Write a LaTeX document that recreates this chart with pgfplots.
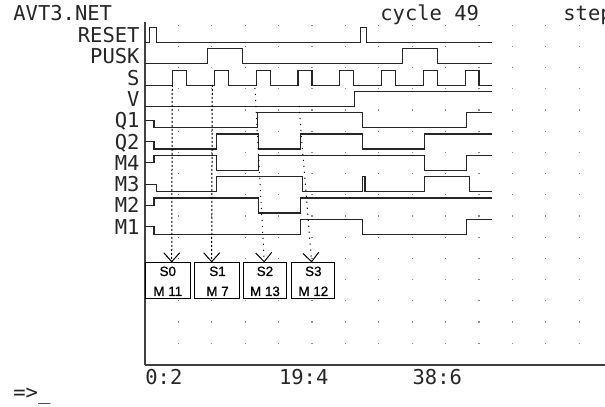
\documentclass[border=0pt]{standalone}
\usepackage{pgfplots}
\pgfplotsset{compat=1.18}
\usepackage{fontspec}
\usetikzlibrary{arrows.meta}
\setmainfont{DejaVu Sans Mono}
\newfontfamily\mono{DejaVu Sans Mono}
\newfontfamily\arial[FakeBold=0.8]{Liberation Sans}
\newcommand\tf{\mono\fontsize{10.25pt}{12pt}\selectfont}
\newcommand\boxfont{\arial\fontsize{6.7pt}{7pt}\selectfont}
\pgfplotsset{
  sig/.style={const plot, color=black!85, line width=0.6pt, mark=none,
     y filter/.expression={130.7+21.3*#1+15*y}},
}
\begin{document}
\begin{tikzpicture}
\begin{axis}[
  x=3.48pt, y=0.5pt,
  xmin=0, xmax=66.1, ymin=0, ymax=343,
  axis x line=bottom, axis y line=left,
  axis line style={-, black!75, line width=0.7pt},
  xtick={0,4.8,9.6,14.4,19.2,24,28.8,33.6,38.4,43.2,48,52.8,57.6,62.4},
  xticklabels={0:2,,,,19:4,,,,38:6,,,,,},
  major tick length=0pt,
  ytick=\empty,
  xmajorgrids,
  major grid style={draw=black!45, line width=0.6pt, dash pattern=on 0.6pt off 10pt},
  xticklabel style={font=\tf, text=black!85, anchor=base west, inner sep=0pt, yshift=-10pt},
  clip=false,
]
% RESET
\addplot[sig=9] coordinates {(0,0) (0.7,1) (1.7,0) (31,1) (31.8,0) (49.8,0)};
% PUSK
\addplot[sig=8] coordinates {(0,0) (9,1) (14,0) (37,1) (42,0) (49.8,0)};
% S
\addplot[sig=7] coordinates {(0,0) (4,1) (6,0) (10,1) (12,0) (16,1) (18,0) (22,1) (24,0) (28,1) (30,0) (34,1) (36,0) (40,1) (42,0) (46,1) (48,0) (49.8,0)};
% V
\addplot[sig=6] coordinates {(0,0) (30.1,1) (49.8,1)};
% Q1
\addplot[sig=5] coordinates {(0,0.5) (1.3,0) (16.2,1) (31.3,0) (46.2,1) (49.8,1)};
% Q2
\addplot[sig=4] coordinates {(0,0.5) (1.3,0) (10.3,1) (16.3,0) (22.3,1) (31.3,0) (40.2,1) (49.8,1)};
% M4
\addplot[sig=3] coordinates {(0,0.5) (1.3,1) (10.3,0) (16.3,1) (40.2,0) (46.2,1) (49.8,1)};
% M3
\addplot[sig=2] coordinates {(0,0.5) (1.6,0) (10.3,1) (22.6,0) (31.3,1) (31.6,0) (40.2,1) (46.6,0) (49.8,0)};
% M2
\addplot[sig=1] coordinates {(0,0.5) (1.3,1) (16.3,0) (22.3,1) (49.8,1)};
% M1
\addplot[sig=0] coordinates {(0,0.5) (1.3,0) (22.3,1) (31.3,0) (46.2,1) (49.8,1)};

% row labels
\begin{scope}[every node/.style={font=\tf, text=black!85, inner sep=0pt}]
\node[anchor=base east] at (axis cs:-0.72,322.4) {RESET};
\node[anchor=base east] at (axis cs:-0.72,301.1) {PUSK};
\node[anchor=base east] at (axis cs:-0.72,279.8) {S};
\node[anchor=base east] at (axis cs:-0.72,258.5) {V};
\node[anchor=base east] at (axis cs:-0.72,237.2) {Q1};
\node[anchor=base east] at (axis cs:-0.72,215.9) {Q2};
\node[anchor=base east] at (axis cs:-0.72,194.6) {M4};
\node[anchor=base east] at (axis cs:-0.72,173.3) {M3};
\node[anchor=base east] at (axis cs:-0.72,152.0) {M2};
\node[anchor=base east] at (axis cs:-0.72,130.7) {M1};
% titles
\node[anchor=base west] at (axis cs:-18.97,344.3) {AVT3.NET};
\node[anchor=base west] at (axis cs:33.76,344.3) {cycle 49};
\node[anchor=base west] at (axis cs:60.06,344.3) {step};
\node[anchor=base west] at (axis cs:-18.97,-35) {=>\_};
\end{scope}

% dotted arrows
\draw[black, line width=0.5pt, dash pattern=on 1pt off 1pt, -{Straight Barb[length=4.5pt,width=8pt]}] (axis cs:3.92,280) -- (axis cs:3.84,102.5);
\draw[black, line width=0.5pt, dash pattern=on 1pt off 1pt, -{Straight Barb[length=4.5pt,width=8pt]}] (axis cs:9.67,280) -- (axis cs:9.58,102.5);
\draw[black, line width=0.5pt, dash pattern=on 0.6pt off 2.4pt, -{Straight Barb[length=4.5pt,width=8pt]}] (axis cs:15.80,277) -- (axis cs:17.14,102.5);
\draw[black, line width=0.5pt, dash pattern=on 0.6pt off 2.4pt, -{Straight Barb[length=4.5pt,width=8pt]}] (axis cs:22.13,259) -- (axis cs:23.95,102.5);

% boxes
\draw[black, line width=0.5pt, fill=white] (axis cs:0.10,102.5) rectangle (axis cs:6.47,66);
\draw[black, line width=0.5pt, fill=white] (axis cs:7.18,102.5) rectangle (axis cs:13.65,66);
\draw[black, line width=0.5pt, fill=white] (axis cs:14.12,102.5) rectangle (axis cs:20.36,66);
\draw[black, line width=0.5pt, fill=white] (axis cs:21.08,102.5) rectangle (axis cs:27.30,66);
\node[anchor=base, font=\boxfont, inner sep=0pt] at (axis cs:3.28,89) {S0};
\node[anchor=base, font=\boxfont, inner sep=0pt] at (axis cs:3.28,69) {M 11};
\node[anchor=base, font=\boxfont, inner sep=0pt] at (axis cs:10.42,89) {S1};
\node[anchor=base, font=\boxfont, inner sep=0pt] at (axis cs:10.42,69) {M 7};
\node[anchor=base, font=\boxfont, inner sep=0pt] at (axis cs:17.24,89) {S2};
\node[anchor=base, font=\boxfont, inner sep=0pt] at (axis cs:17.24,69) {M 13};
\node[anchor=base, font=\boxfont, inner sep=0pt] at (axis cs:24.19,89) {S3};
\node[anchor=base, font=\boxfont, inner sep=0pt] at (axis cs:24.19,69) {M 12};

\coordinate (bl) at (axis cs:-20.833,-42);
\coordinate (tr) at (axis cs:66.1,365);
\end{axis}
\pgfresetboundingbox
\path (bl) rectangle (tr);
\end{tikzpicture}
\end{document}
